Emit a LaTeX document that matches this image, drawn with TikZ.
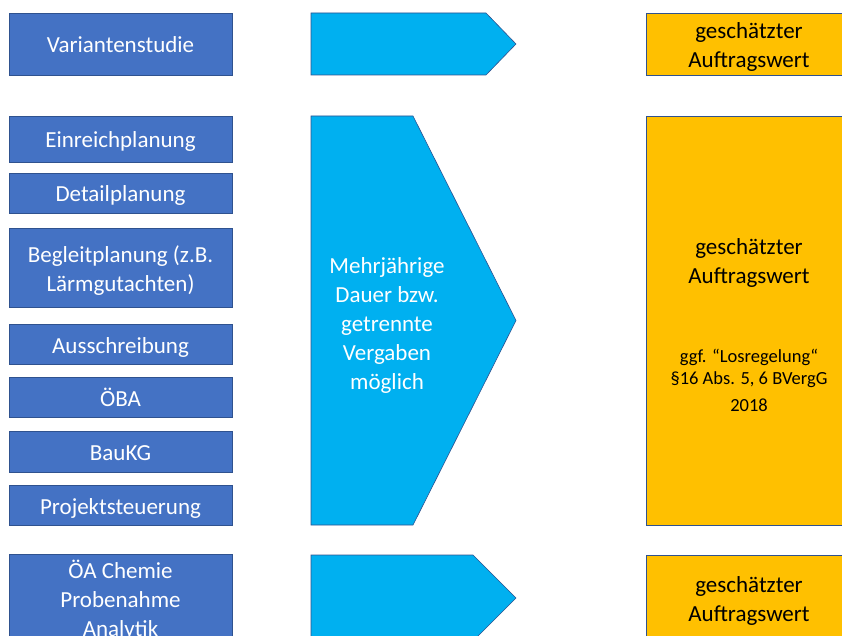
\documentclass[tikz,border=0pt]{standalone}
\usepackage{fontspec}
\setmainfont{Carlito}
\usetikzlibrary{positioning}

\definecolor{boxblue}{HTML}{4472C4}
\definecolor{edgeblue}{HTML}{2F528F}
\definecolor{phasecyan}{HTML}{00B0F0}
\definecolor{valueorange}{HTML}{FFC000}

\begin{document}
\begin{tikzpicture}[x = 1pt, y = -1pt,
	linebox/.style 2 args = {execute at begin node = {\spaceskip=0pt\rule[-#1]{0pt}{#2}}, execute at end node = {\rule[-#1]{0pt}{#2}}},
	every node/.style = {align = flush center, inner sep = 0pt, text width = 215pt,
		font = \fontsize{23}{29}\selectfont, linebox = {5.5pt}{29pt}},
	task/.style = {draw = edgeblue, line width = 0.8pt, fill = boxblue, text = white, minimum width = 223pt},
	value/.style = {draw = edgeblue, line width = 0.8pt, fill = valueorange, minimum width = 206pt, text width = 200pt},
	phase/.style = {draw = edgeblue, line width = 0.6pt, fill = phasecyan, line join = miter}]

	% Definitions

	\def\L{311}		% Left edge of the arrows
	\def\T{516}		% Tip of the arrows
	\def\C{120.5}	% Centre of the task column
	\def\V{749}		% Centre of the value column

	\clip (0, 0) rectangle (842, 636);

	% Tasks

	\node [task, minimum height = 62pt] (variant) at (\C, 44) {Variantenstudie};

	\node [task, minimum height = 46pt] (submit) at (\C, 139) {Einreichplanung};
	\node [task, minimum height = 40pt] (detail) at (\C, 193) {Detailplanung};
	\node [task, minimum height = 79pt] (escort) at (\C, 267.5) {Begleitplanung (z.B.\\Lärmgutachten)};
	\node [task, minimum height = 40pt] (tender) at (\C, 344) {Ausschreibung};
	\node [task, minimum height = 40pt] (oeba) at (\C, 397) {ÖBA};
	\node [task, minimum height = 41pt] (baukg) at (\C, 451.5) {BauKG};
	\node [task, minimum height = 40pt] (steer) at (\C, 505) {Projektsteuerung};

	\node [task, minimum height = 89pt] (chem) at (\C, 598.5) {ÖA Chemie\\Probenahme\\Analytik};

	% Arrows: top, bottom, depth of the point

	\foreach \t/\b/\d in {13/75/30, 116/525/103, 555/641/43}
		\draw [phase] (\L, \t) -- ({\T - \d}, \t) -- (\T, {(\t + \b) / 2})
			-- ({\T - \d}, \b) -- (\L, \b) -- cycle;

	\node [text = white, text width = 180pt] (span) at (387, 322) {Mehrjährige\\Dauer bzw.\\getrennte\\Vergaben\\möglich};

	% Estimated values

	\node [value, minimum height = 62pt] (valtop) at (\V, 44) {geschätzter\\Auftragswert};

	\node [value, minimum height = 409pt] (valmid) at (\V, 320.5) {};
	\node [text width = 200pt] (valtext) at (\V, 259.5) {geschätzter\\Auftragswert};
	\node [text width = 200pt, font = \fontsize{18.5}{21.5}\selectfont, linebox = {7pt}{21.5pt}] (lots) at (\V, 379) {ggf. “Losregelung“\\§16 Abs. 5, 6 BVergG\\2018};

	\node [value, minimum height = 86pt] (valbot) at (\V, 598) {geschätzter\\Auftragswert};

\end{tikzpicture}
\end{document}
